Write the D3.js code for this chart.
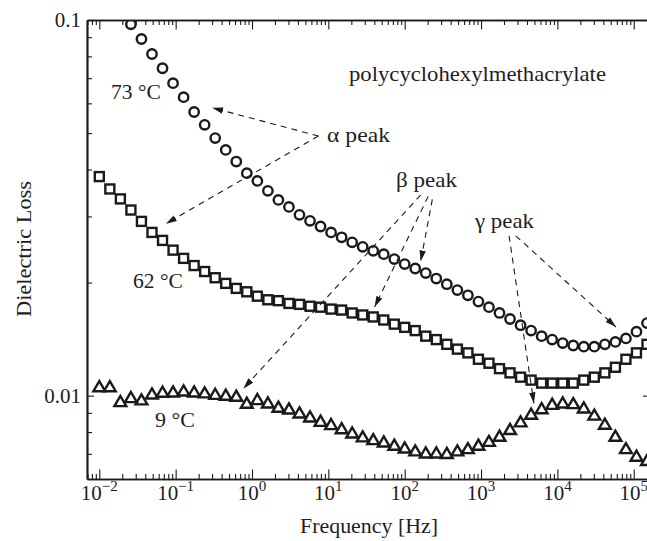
<!DOCTYPE html>
<html>
<head>
<meta charset="utf-8">
<script src="https://cdn.jsdelivr.net/npm/d3@7"></script>
<style>
  html, body { margin: 0; padding: 0; background: #fff; }
  svg { display: block; }
  text { font-family: "Liberation Serif", "Times New Roman", serif; fill: #1e1e1e; }
</style>
</head>
<body>
<svg id="chart" width="647" height="541"></svg>
<script>
// Measurement frequencies in Hz (29 points for every four decades)
const frequencies = [
  0.0100, 0.01374, 0.01888, 0.02594, 0.03565, 0.04898, 0.06730, 0.09247,
  0.1271, 0.1746, 0.2399, 0.3296, 0.4529, 0.6223, 0.8551,
  1.175, 1.614, 2.218, 3.048, 4.188, 5.754, 7.906,
  10.86, 14.93, 20.51, 28.18, 38.72, 53.21, 73.11,
  100.0, 137.4, 188.8, 259.4, 356.4, 489.7, 672.9, 924.6,
  1270, 1745, 2398, 3295, 4527, 6220, 8547,
  11740, 16140, 22170, 30470, 41860, 57520, 79040,
  108600, 149200
];

// Dielectric loss at 73 °C (first points lie above the plotted range)
const loss73 = [
  null, null, null, 0.0974, 0.0890, 0.0812, 0.0744, 0.0679,
  0.0623, 0.0569, 0.0526, 0.0485, 0.0451, 0.0420, 0.0391,
  0.0373, 0.0351, 0.0332, 0.0318, 0.0303, 0.0292, 0.0282,
  0.0272, 0.0264, 0.0256, 0.0249, 0.0243, 0.0238, 0.0231,
  0.0224, 0.0218, 0.0212, 0.0205, 0.0198, 0.0191, 0.0185, 0.0178,
  0.0172, 0.0166, 0.0160, 0.0154, 0.0149, 0.0144, 0.0141,
  0.0138, 0.0136, 0.0135, 0.0135, 0.0137, 0.0139, 0.0142,
  0.0148, 0.0156
];

// Dielectric loss at 62 °C
const loss62 = [
  0.0383, 0.0355, 0.0334, 0.0312, 0.0291, 0.0272, 0.0259, 0.0244,
  0.0232, 0.0222, 0.0214, 0.0206, 0.0199, 0.0193, 0.0189,
  0.0184, 0.0180, 0.0179, 0.0176, 0.0175, 0.0173, 0.0172,
  0.0170, 0.0169, 0.0166, 0.0164, 0.0162, 0.0159, 0.0155,
  0.0152, 0.0149, 0.0144, 0.0141, 0.0137, 0.0133, 0.0130, 0.0125,
  0.0122, 0.0118, 0.0115, 0.0112, 0.0110, 0.0108, 0.0108,
  0.0108, 0.0108, 0.0110, 0.0112, 0.0115, 0.0119, 0.0125,
  0.0130, 0.0137
];

// Dielectric loss at 9 °C
const loss9 = [
  0.01058, 0.01058, 0.00966, 0.00990, 0.00976, 0.01012, 0.01023, 0.01025,
  0.01031, 0.01025, 0.01019, 0.01010, 0.01004, 0.00998, 0.00956,
  0.00978, 0.00958, 0.00933, 0.00923, 0.00901, 0.00879, 0.00856,
  0.00839, 0.00818, 0.00797, 0.00778, 0.00765, 0.00754, 0.00739,
  0.00727, 0.00714, 0.00705, 0.00705, 0.00703, 0.00714, 0.00724, 0.00739,
  0.00757, 0.00781, 0.00814, 0.00853, 0.00894, 0.00925, 0.00950,
  0.00958, 0.00954, 0.00929, 0.00889, 0.00841, 0.00781, 0.00724,
  0.00691, 0.00673
];

const xTickExponents = [-2, -1, 0, 1, 2, 3, 4, 5];
const yTickValues = [0.1, 0.01];
const yTickLabels = ["0.1", "0.01"];

// Peak annotations: arrows run from the label to the curve, in (Hz, loss) units
const peakArrows = [
  { from: [7.41, 0.0491], to: [0.301, 0.0584] },
  { from: [7.41, 0.0491], to: [0.0743, 0.0287] },
  { from: [161.8, 0.0342], to: [0.769, 0.01044] },
  { from: [202.8, 0.0339], to: [40.3, 0.01721] },
  { from: [230, 0.0333], to: [161.8, 0.02276] },
  { from: [2328, 0.02664], to: [4920, 0.00954] },
  { from: [2851, 0.02664], to: [58610, 0.01523] }
];

const svg = d3.select("#chart");
const ink = "#1a1a1a";

const plotLeft = 87, plotRight = 649, plotTop = 20, plotBottom = 479;
const x = d3.scaleLog().domain([0.0069, 158500]).range([plotLeft, plotRight]);
const y = d3.scaleLog().domain([0.006, 0.1]).range([plotBottom, plotTop]);

const defs = svg.append("defs");
defs.append("clipPath").attr("id", "plot-clip")
  .append("rect").attr("x", plotLeft).attr("y", plotTop)
  .attr("width", plotRight - plotLeft).attr("height", plotBottom - plotTop);

defs.append("marker")
  .attr("id", "arrowhead")
  .attr("markerUnits", "userSpaceOnUse")
  .attr("viewBox", "0 0 11 8")
  .attr("refX", 11).attr("refY", 4)
  .attr("markerWidth", 11).attr("markerHeight", 8)
  .attr("orient", "auto")
  .append("path").attr("d", "M0,0.8 L11,4 L0,7.2 Z").attr("fill", ink);

// Tick positions
const xMajor = xTickExponents.map(e => Math.pow(10, e));
const xMinor = [];
for (let e = -3; e <= 5; e++) {
  for (let k = 2; k <= 9; k++) {
    const v = k * Math.pow(10, e);
    if (v > x.domain()[0] && v < x.domain()[1]) xMinor.push(v);
  }
}
const yMinor = [];
for (let e = -3; e <= -2; e++) {
  for (let k = 2; k <= 9; k++) {
    const v = k * Math.pow(10, e);
    if (v > y.domain()[0] * 1.001 && v < y.domain()[1]) yMinor.push(v);
  }
}

function styleAxis(g) {
  g.selectAll("path.domain").attr("stroke", ink).attr("stroke-width", 1.7);
  g.selectAll(".tick line").attr("stroke", ink).attr("stroke-width", 1.1);
  g.selectAll(".tick text").remove();
}

// Bottom and top frequency axes, ticks pointing into the plot
[[d3.axisBottom, plotBottom], [d3.axisTop, plotTop]].forEach(([axisFn, yPos]) => {
  svg.append("g").attr("transform", `translate(0,${yPos})`)
    .call(axisFn(x).tickValues(xMinor).tickSizeInner(-5).tickSizeOuter(0).tickFormat(""))
    .call(styleAxis);
  svg.append("g").attr("transform", `translate(0,${yPos})`)
    .call(axisFn(x).tickValues(xMajor).tickSizeInner(-9.5).tickSizeOuter(0).tickFormat(""))
    .call(styleAxis);
});

// Left loss axis
svg.append("g").attr("transform", `translate(${plotLeft},0)`)
  .call(d3.axisLeft(y).tickValues(yMinor).tickSizeInner(-5).tickSizeOuter(0).tickFormat(""))
  .call(styleAxis);
svg.append("g").attr("transform", `translate(${plotLeft},0)`)
  .call(d3.axisLeft(y).tickValues(yTickValues).tickSizeInner(-7).tickSizeOuter(0).tickFormat(""))
  .call(styleAxis);

// Right loss axis (sits at the edge of the frame)
svg.append("g").attr("transform", `translate(${plotRight},0)`)
  .call(d3.axisRight(y).tickValues(yTickValues).tickSizeInner(-6).tickSizeOuter(0).tickFormat(""))
  .call(styleAxis);

// Frequency tick labels: 10 with a superscript exponent
xTickExponents.forEach(e => {
  const t = svg.append("text")
    .attr("x", x(Math.pow(10, e)))
    .attr("y", 500)
    .attr("text-anchor", "middle")
    .style("font-size", "21px");
  t.append("tspan").text("10");
  t.append("tspan").attr("dy", -9).style("font-size", "15px")
    .text(e < 0 ? "\u2212" + Math.abs(e) : String(e));
});

// Loss tick labels
yTickValues.forEach((v, i) => {
  svg.append("text")
    .attr("x", 81)
    .attr("y", y(v) + 7)
    .attr("text-anchor", "end")
    .style("font-size", "21px")
    .text(yTickLabels[i]);
});

// Axis titles
svg.append("text")
  .attr("transform", `translate(31,249) rotate(-90)`)
  .attr("text-anchor", "middle")
  .attr("textLength", 136).attr("lengthAdjust", "spacingAndGlyphs")
  .style("font-size", "21px")
  .text("Dielectric Loss");

svg.append("text")
  .attr("x", 369).attr("y", 533)
  .attr("text-anchor", "middle")
  .attr("textLength", 138).attr("lengthAdjust", "spacingAndGlyphs")
  .style("font-size", "21px")
  .text("Frequency [Hz]");

// Data markers
const plot = svg.append("g").attr("clip-path", "url(#plot-clip)");
const rows = (values) => frequencies
  .map((f, i) => ({ f, v: values[i] }))
  .filter(d => d.v != null);

const markerStroke = 2.4;

plot.append("g").selectAll("circle")
  .data(rows(loss73))
  .join("circle")
  .attr("cx", d => x(d.f))
  .attr("cy", d => y(d.v))
  .attr("r", 4.7)
  .attr("fill", "none")
  .attr("stroke", ink)
  .attr("stroke-width", markerStroke);

const side = 9;
plot.append("g").selectAll("rect")
  .data(rows(loss62))
  .join("rect")
  .attr("x", d => x(d.f) - side / 2)
  .attr("y", d => y(d.v) - side / 2)
  .attr("width", side)
  .attr("height", side)
  .attr("fill", "none")
  .attr("stroke", ink)
  .attr("stroke-width", markerStroke);

plot.append("g").selectAll("path")
  .data(rows(loss9))
  .join("path")
  .attr("transform", d => `translate(${x(d.f)},${y(d.v)})`)
  .attr("d", "M0,-5.3 L5.9,4.8 L-5.9,4.8 Z")
  .attr("fill", "none")
  .attr("stroke", ink)
  .attr("stroke-width", markerStroke)
  .attr("stroke-linejoin", "miter");

// Dashed arrows pointing at the relaxation peaks
svg.append("g").selectAll("line")
  .data(peakArrows)
  .join("line")
  .attr("x1", d => x(d.from[0])).attr("y1", d => y(d.from[1]))
  .attr("x2", d => x(d.to[0])).attr("y2", d => y(d.to[1]))
  .attr("stroke", ink)
  .attr("stroke-width", 1.1)
  .attr("stroke-dasharray", "6,5")
  .attr("marker-end", "url(#arrowhead)");

// Text annotations
const notes = [
  { text: "polycyclohexylmethacrylate", x: 349, y: 81, w: 257 },
  { text: "\u03b1 peak", x: 327, y: 142, w: 63 },
  { text: "\u03b2 peak", x: 396, y: 187, w: 61 },
  { text: "\u03b3 peak", x: 475, y: 228, w: 59 },
  { text: "73 \u00b0C", x: 111, y: 99, w: 50 },
  { text: "62 \u00b0C", x: 133, y: 288, w: 50 },
  { text: "9 \u00b0C", x: 155, y: 427, w: 40 }
];
svg.append("g").selectAll("text")
  .data(notes)
  .join("text")
  .attr("x", d => d.x)
  .attr("y", d => d.y)
  .attr("textLength", d => d.w)
  .attr("lengthAdjust", "spacingAndGlyphs")
  .style("font-size", "22px")
  .text(d => d.text);
</script>
</body>
</html>
